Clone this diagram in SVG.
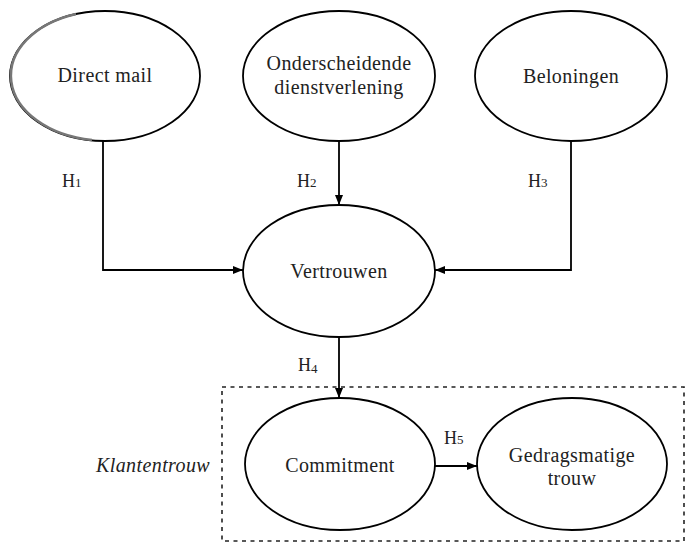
<svg xmlns="http://www.w3.org/2000/svg" width="686" height="544" viewBox="0 0 686 544">
<defs>
<marker id="ah" viewBox="0 0 10 10" refX="10" refY="5" markerWidth="10" markerHeight="10" markerUnits="userSpaceOnUse" orient="auto">
<path d="M0,1 L10,5 L0,9 Z" fill="#000"/>
</marker>
</defs>
<style>
.n{fill:#fff;stroke:#000;stroke-width:1.8}
.t{font-family:"Liberation Serif","Times New Roman",serif;font-size:20px;fill:#222;text-anchor:middle;letter-spacing:0.4px}
.h{font-family:"Liberation Serif","Times New Roman",serif;font-size:18px;fill:#222}
.s{font-size:13px}
.c{fill:none;stroke:#000;stroke-width:1.8}
</style>
<rect width="686" height="544" fill="#fff"/>
<rect id="klantentrouw-box" x="222" y="387" width="462" height="154" fill="none" stroke="#222" stroke-width="1.6" stroke-dasharray="4,4.5"/>
<text class="h" x="96" y="472" style="font-size:20px;font-style:italic;letter-spacing:0.4px">Klantentrouw</text>
<g id="connectors">
<path class="c" d="M103,141 V270 H243" marker-end="url(#ah)"/>
<path class="c" d="M339,141 V205" marker-end="url(#ah)"/>
<path class="c" d="M571,141 V270 H435" marker-end="url(#ah)"/>
<path class="c" d="M339,338 V398" marker-end="url(#ah)"/>
<path class="c" d="M435,466 H477" marker-end="url(#ah)"/>
<text class="h" x="62" y="187">H<tspan class="s">1</tspan></text>
<text class="h" x="297" y="187">H<tspan class="s">2</tspan></text>
<text class="h" x="528" y="187">H<tspan class="s">3</tspan></text>
<text class="h" x="298" y="371">H<tspan class="s" dy="2">4</tspan></text>
<text class="h" x="444" y="444">H<tspan class="s">5</tspan></text>
</g>
<g id="direct-mail">
<ellipse class="n" cx="105" cy="76" rx="95" ry="65"/>
<path d="M76,14 A95,65 0 0 0 92,140" fill="none" stroke="#777" stroke-width="2.6"/>
<text class="t" x="105" y="82">Direct mail</text>
</g>
<g id="onderscheidende">
<ellipse class="n" cx="339" cy="76" rx="96" ry="65"/>
<text class="t" x="339" y="70">Onderscheidende</text>
<text class="t" x="339" y="94">dienstverlening</text>
</g>
<g id="beloningen">
<ellipse class="n" cx="571" cy="76" rx="96" ry="65"/>
<text class="t" x="571" y="83">Beloningen</text>
</g>
<g id="vertrouwen">
<ellipse class="n" cx="339" cy="271" rx="96" ry="66"/>
<text class="t" x="339" y="278">Vertrouwen</text>
</g>
<g id="commitment">
<ellipse class="n" cx="340" cy="464" rx="95" ry="66"/>
<text class="t" x="340" y="472">Commitment</text>
</g>
<g id="gedragsmatige-trouw">
<ellipse class="n" cx="572" cy="464" rx="95" ry="66"/>
<text class="t" x="572" y="462">Gedragsmatige</text>
<text class="t" x="572" y="485">trouw</text>
</g>
</svg>
